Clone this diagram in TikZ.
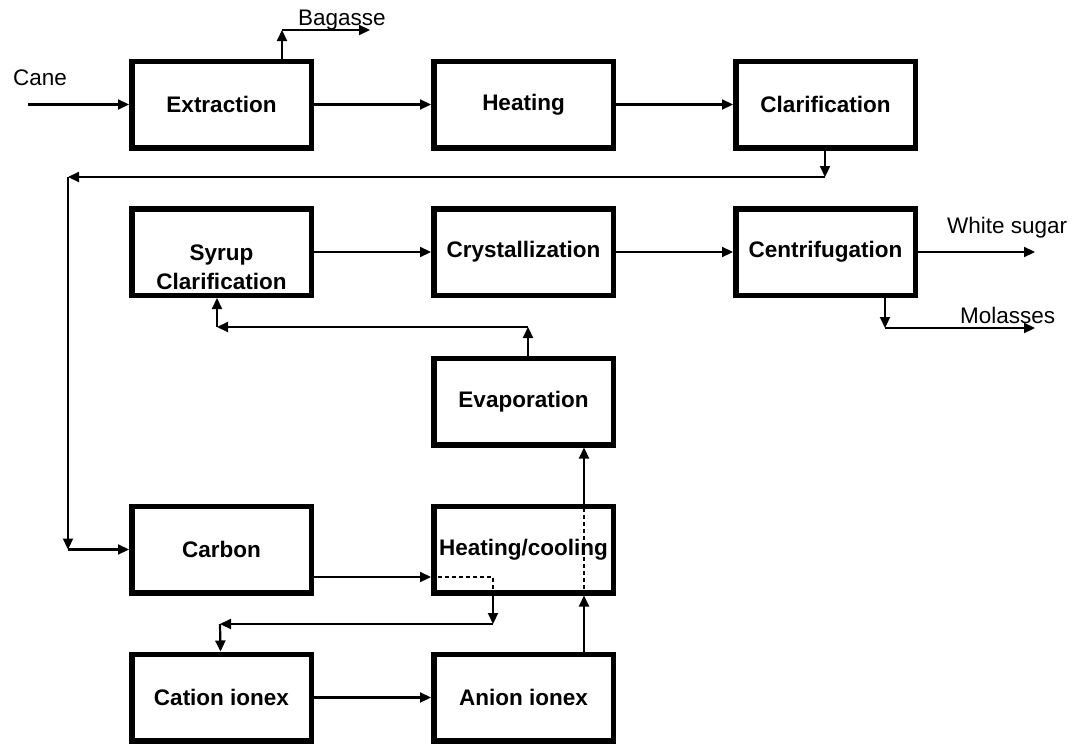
\documentclass[tikz,border=0pt]{standalone}
\usepackage{fontspec}
\setmainfont{Liberation Sans}
\usetikzlibrary{arrows.meta}
\tikzset{
  procbox/.style={draw, line width=5.5pt, minimum width=179.5pt, minimum height=86.5pt, inner sep=0pt,
    font=\fontsize{22.5}{26}\selectfont\bfseries, align=center},
  flow/.style={line width=2.2pt, -{Triangle[length=11pt,width=10pt]}},
  dashline/.style={line width=1.1pt, dash pattern=on 4pt off 3pt},
  lbl/.style={inner sep=0pt, font=\fontsize{22.5}{26}\selectfont},
  boxtext/.style={inner sep=0pt, font=\fontsize{22.5}{29}\selectfont\bfseries, align=center}
}
\begin{document}
\begin{tikzpicture}[x=1pt,y=-1pt]
\useasboundingbox (0,0) rectangle (1072,744);
% boxes
\node[procbox] (ext) at (221.5,104.5) {Extraction};
\node[procbox] (heat) at (523.5,104.5) {Heating};
\node[procbox] (clar) at (825.5,104.5) {Clarification};
\node[procbox] (syrup) at (221.5,252) {};
\node[boxtext] (syruptxt) at (221.5,267) {Syrup\\Clarification};
\node[procbox] (cryst) at (523.5,252) {Crystallization};
\node[procbox] (centri) at (825.5,252) {Centrifugation};
\node[procbox] (evap) at (523.5,401.5) {Evaporation};
\node[procbox] (carbon) at (221.5,549.5) {Carbon};
\node[procbox] (hc) at (523.5,549.5) {Heating/cooling};
\node[procbox] (cation) at (221.5,697.5) {Cation ionex};
\node[procbox] (anion) at (523.5,697.5) {Anion ionex};
% labels
\node[lbl, anchor=base west] (canelbl) at (13,85) {Cane};
\node[lbl, anchor=base west] (baglbl) at (298,25) {Bagasse};
\node[lbl, anchor=base west] (wslbl) at (947,233) {White sugar};
\node[lbl, anchor=base west] (mollbl) at (960,323) {Molasses};
% coordinates
\coordinate (canein) at (28,104.5);
\coordinate (bagc) at (282,30);
\coordinate (bagend) at (370,30);
\coordinate (clarc) at (825,177);
\coordinate (leftc) at (68,177);
\coordinate (leftb) at (68,549.5);
\coordinate (wsend) at (1035,252);
\coordinate (molc) at (885,328);
\coordinate (molend) at (1035,328);
\coordinate (evapc) at (528,327);
\coordinate (syrc) at (217,327);
\coordinate (dashA) at (493,577);
\coordinate (dashB) at (493,624);
\coordinate (catc) at (220,624);
\coordinate (upx) at (584,0);
% connectors
\draw[flow] (canein) -- (ext);
\draw[flow] (ext.north -| bagc) -- (bagc);
\draw[flow] (bagc) -- (bagend);
\draw[flow] (ext) -- (heat);
\draw[flow] (heat) -- (clar);
\draw[flow] (clar.south -| clarc) -- (clarc);
\draw[flow] (clarc) -- (leftc);
\draw[flow] (leftc) -- (leftb);
\draw[flow] (leftb) -- (carbon);
\draw[flow] (syrup) -- (cryst);
\draw[flow] (cryst) -- (centri);
\draw[flow] (centri) -- (wsend);
\draw[flow] (centri.south -| molc) -- (molc);
\draw[flow] (molc) -- (molend);
\draw[flow] (evap.north -| evapc) -- (evapc);
\draw[flow] (evapc) -- (syrc);
\draw[flow] (syrc) -- (syrup.south -| syrc);
\draw[flow] (carbon.east |- dashA) -- (hc.west |- dashA);
\draw[dashline] (hc.west |- dashA) -- (dashA) -- (dashA |- hc.south);
\draw[flow] (dashA |- hc.south) -- (dashB);
\draw[flow] (dashB) -- (catc);
\draw[flow] (catc) -- (cation);
\draw[flow] (cation) -- (anion);
\draw[flow] (anion.north -| upx) -- (hc.south -| upx);
\draw[dashline] (hc.south -| upx) -- (hc.north -| upx);
\draw[flow] (hc.north -| upx) -- (evap.south -| upx);
\end{tikzpicture}
\end{document}
